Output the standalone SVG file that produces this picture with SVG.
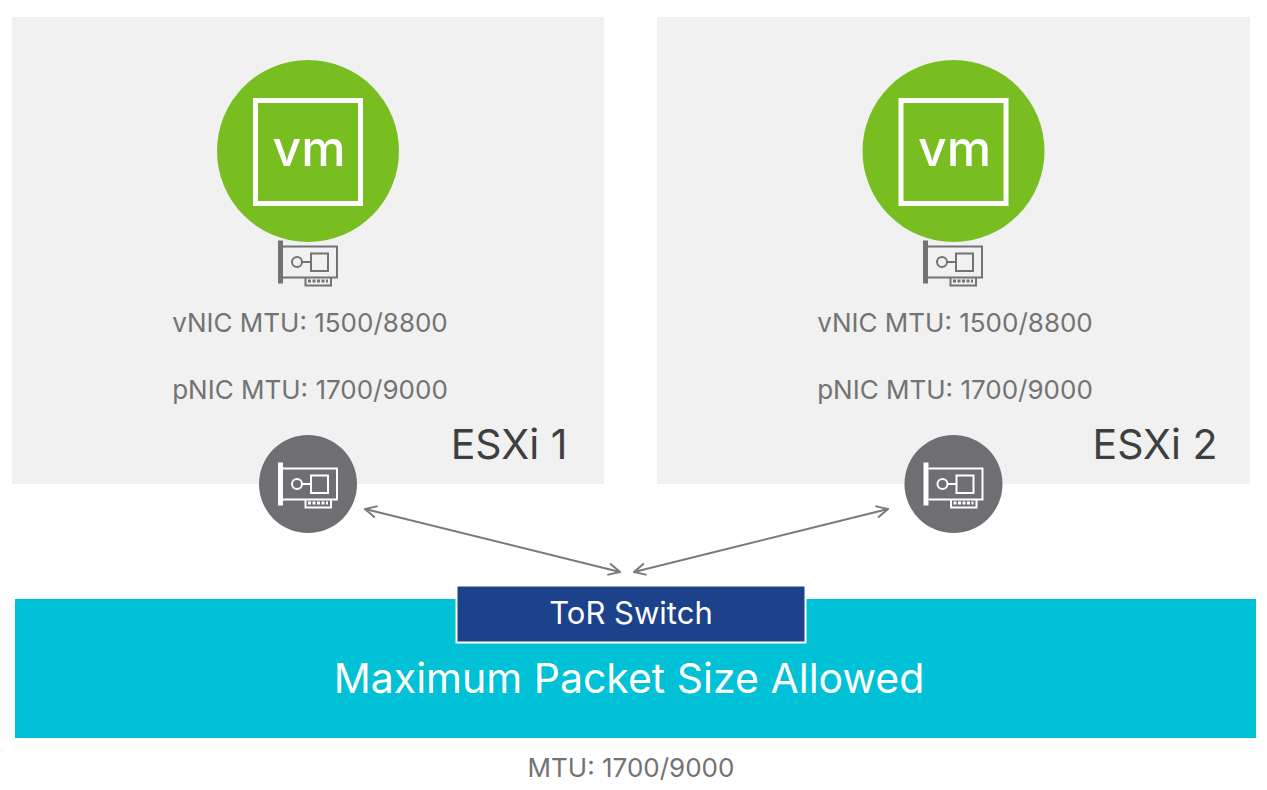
<svg xmlns="http://www.w3.org/2000/svg" width="1267" height="790" viewBox="0 0 1267 790">
<style>
text{font-family:Inter,"Liberation Sans",sans-serif}
.lbl{font-size:26px;fill:#737373;text-anchor:middle}
.esx{font-size:41px;fill:#3f3f3f;text-anchor:middle}
.vm{font-size:50px;font-weight:500;fill:#fff;text-anchor:middle}
.host{fill:#f1f1f1}
.vmc{fill:#78be20}
.vmb{fill:none;stroke:#fff;stroke-width:5}
.pc{fill:#6f6f73}
.conn{fill:none;stroke:#7a7a7a;stroke-width:2;marker-start:url(#a);marker-end:url(#a)}
.ic{fill:none;stroke-width:2}
</style>
<defs>
<marker id="a" viewBox="0 0 12 12" refX="11" refY="6" markerWidth="14" markerHeight="14" markerUnits="userSpaceOnUse" orient="auto-start-reverse">
<path d="M1 1L11 6L1 11" fill="none" stroke="#7a7a7a" stroke-width="1.7"/>
</marker>
<g id="nic">
<path d="M280.500 240.500V283.500" fill="none" stroke="currentColor" stroke-width="5"/>
<path class="ic" stroke="currentColor" d="M283 246.500H337V277.500H283M305.500 277.500V285.500H331V277.500"/>
<circle class="ic" stroke="currentColor" cx="297" cy="262" r="5"/>
<path class="ic" stroke="currentColor" d="M302 262H311M311 253.500H328V271H311Z"/>
<path d="M308 281H328" fill="none" stroke="currentColor" stroke-width="3" stroke-dasharray="3 1.500"/>
</g>
</defs>
<rect width="1267" height="790" fill="#fff"/>
<g id="esxi1">
<rect class="host" x="12" y="17" width="592" height="467"/>
<text class="esx" x="509" y="459">ESXi 1</text>
<text class="lbl" x="310" y="332">vNIC MTU: 1500/8800</text>
<text class="lbl" x="310" y="399">pNIC MTU: 1700/9000</text>
</g>
<g id="esxi2">
<rect class="host" x="657" y="17" width="593" height="467"/>
<text class="esx" x="1155" y="459">ESXi 2</text>
<text class="lbl" x="955" y="332">vNIC MTU: 1500/8800</text>
<text class="lbl" x="955" y="399">pNIC MTU: 1700/9000</text>
</g>
<g id="vm1">
<circle class="vmc" cx="308" cy="151" r="91"/>
<rect class="vmb" x="255.500" y="100.500" width="105" height="103"/>
<text class="vm" x="309" y="166">vm</text>
</g>
<g id="vm2">
<circle class="vmc" cx="953.500" cy="151" r="91"/>
<rect class="vmb" x="901" y="100.500" width="105" height="103"/>
<text class="vm" x="954.500" y="166">vm</text>
</g>
<g id="vnic1" color="#737377"><use href="#nic"/></g>
<g id="vnic2" color="#737377"><use href="#nic" x="645"/></g>
<g id="pnic1" color="#fff">
<circle class="pc" cx="308" cy="484" r="49"/>
<use href="#nic" y="222"/>
</g>
<g id="pnic2" color="#fff">
<circle class="pc" cx="953.500" cy="484" r="49"/>
<use href="#nic" x="645.500" y="222"/>
</g>
<g id="fabric">
<rect x="15" y="599" width="1241" height="139" fill="#00c1d5"/>
<text x="629" y="693" font-size="41" fill="#fff" text-anchor="middle">Maximum Packet Size Allowed</text>
</g>
<g id="tor">
<rect x="456.500" y="585.500" width="349" height="57" fill="#1b428a" stroke="#fff" stroke-width="2"/>
<text x="631" y="624" font-size="31" fill="#fff" text-anchor="middle">ToR Switch</text>
</g>
<g id="connectors">
<path class="conn" d="M365 509L620 572"/>
<path class="conn" d="M634 572L888 509"/>
</g>
<text id="mtu" class="lbl" x="631" y="777">MTU: 1700/9000</text>
</svg>
